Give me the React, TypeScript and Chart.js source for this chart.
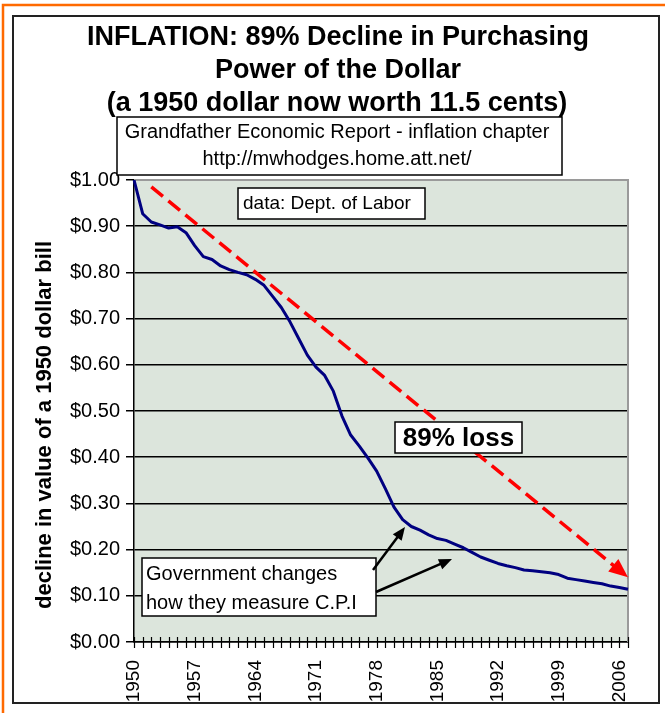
import React, { useEffect, useRef } from 'react';
import { Chart, registerables } from 'chart.js';

Chart.register(...registerables);

const FONT = "'Liberation Sans', Arial, sans-serif";

const years = [
  '1950', '1951', '1952', '1953', '1954', '1955', '1956', '1957', '1958', '1959',
  '1960', '1961', '1962', '1963', '1964', '1965', '1966', '1967', '1968', '1969',
  '1970', '1971', '1972', '1973', '1974', '1975', '1976', '1977', '1978', '1979',
  '1980', '1981', '1982', '1983', '1984', '1985', '1986', '1987', '1988', '1989',
  '1990', '1991', '1992', '1993', '1994', '1995', '1996', '1997', '1998', '1999',
  '2000', '2001', '2002', '2003', '2004', '2005', '2006', '2007',
];

const dollarValue = [
  1.0, 0.927, 0.909, 0.903, 0.896, 0.899, 0.886, 0.858, 0.834, 0.828,
  0.814, 0.806, 0.8, 0.795, 0.785, 0.772, 0.748, 0.724, 0.693, 0.657,
  0.621, 0.595, 0.577, 0.543, 0.489, 0.448, 0.424, 0.398, 0.37, 0.332,
  0.292, 0.265, 0.25, 0.242, 0.232, 0.224, 0.22, 0.212, 0.204, 0.194,
  0.184, 0.177, 0.17, 0.165, 0.161, 0.156, 0.154, 0.152, 0.15, 0.146,
  0.138, 0.135, 0.132, 0.129, 0.126, 0.121, 0.118, 0.114,
];

const trendYears = ['1952', '2007'];
const trendValues = [0.985, 0.14];

const shownYearLabels = ['1950', '1957', '1964', '1971', '1978', '1985', '1992', '1999', '2006'];

const titleLines = [
  'INFLATION: 89% Decline in Purchasing',
  'Power of the Dollar',
  '(a 1950 dollar now worth 11.5 cents)',
];
const sourceLines = ['Grandfather Economic Report - inflation chapter', 'http://mwhodges.home.att.net/'];
const dataNote = 'data: Dept. of Labor';
const lossNote = '89% loss';
const govLines = ['Government changes', 'how they measure C.P.I'];
const yTitle = 'decline in value of a 1950 dollar bill';

function arrowHead(ctx: CanvasRenderingContext2D, x0: number, y0: number, x1: number, y1: number, len: number, half: number, color: string) {
  const ang = Math.atan2(y1 - y0, x1 - x0);
  ctx.save();
  ctx.fillStyle = color;
  ctx.beginPath();
  ctx.moveTo(x1, y1);
  ctx.lineTo(x1 - len * Math.cos(ang) + half * Math.sin(ang), y1 - len * Math.sin(ang) - half * Math.cos(ang));
  ctx.lineTo(x1 - len * Math.cos(ang) - half * Math.sin(ang), y1 - len * Math.sin(ang) + half * Math.cos(ang));
  ctx.closePath();
  ctx.fill();
  ctx.restore();
}

function arrow(ctx: CanvasRenderingContext2D, x0: number, y0: number, x1: number, y1: number) {
  const ang = Math.atan2(y1 - y0, x1 - x0);
  ctx.save();
  ctx.strokeStyle = '#000';
  ctx.lineWidth = 2.5;
  ctx.beginPath();
  ctx.moveTo(x0, y0);
  ctx.lineTo(x1 - 8 * Math.cos(ang), y1 - 8 * Math.sin(ang));
  ctx.stroke();
  ctx.restore();
  arrowHead(ctx, x0, y0, x1, y1, 13, 5.5, '#000');
}

function box(ctx: CanvasRenderingContext2D, x0: number, y0: number, x1: number, y1: number) {
  ctx.save();
  ctx.fillStyle = '#fff';
  ctx.fillRect(x0, y0, x1 - x0, y1 - y0);
  ctx.strokeStyle = '#000';
  ctx.lineWidth = 1.5;
  ctx.strokeRect(x0, y0, x1 - x0, y1 - y0);
  ctx.restore();
}

const decor = {
  id: 'decor',
  beforeDraw(chart: any) {
    const { ctx, chartArea: a } = chart;
    ctx.save();
    ctx.fillStyle = '#fff';
    ctx.fillRect(0, 0, chart.width, chart.height);
    ctx.fillStyle = '#dce5dc';
    ctx.fillRect(a.left, a.top, a.right - a.left, a.bottom - a.top);
    ctx.restore();
  },
  beforeDatasetsDraw(chart: any) {
    const { ctx, chartArea: a } = chart;
    ctx.save();
    ctx.strokeStyle = '#9a9a9a';
    ctx.lineWidth = 2;
    ctx.beginPath();
    ctx.moveTo(a.left, a.top);
    ctx.lineTo(a.right, a.top);
    ctx.lineTo(a.right, a.bottom);
    ctx.stroke();
    ctx.restore();
  },
  afterDatasetsDraw(chart: any) {
    const { ctx } = chart;
    const pts = chart.getDatasetMeta(1).data;
    const p0 = pts[pts.length - 2];
    const p1 = pts[pts.length - 1];
    arrowHead(ctx, p0.x, p0.y, p1.x, p1.y, 19, 8, '#ff0000');
  },
  afterDraw(chart: any) {
    const { ctx, chartArea: a } = chart;
    const xs = chart.scales.x;
    ctx.save();
    // x tick marks crossing the axis
    ctx.strokeStyle = '#000';
    ctx.lineWidth = 1.2;
    for (let i = 0; i < years.length; i++) {
      const x = Math.round(xs.getPixelForValue(i)) + 0.5;
      ctx.beginPath();
      ctx.moveTo(x, a.bottom - 5);
      ctx.lineTo(x, a.bottom + 6);
      ctx.stroke();
    }
    // frames
    ctx.strokeStyle = '#ff6a00';
    ctx.lineWidth = 2.5;
    ctx.strokeRect(3, 5, 720, 760);
    ctx.strokeStyle = '#222';
    ctx.lineWidth = 2;
    ctx.strokeRect(13, 16, 646, 687);

    // title
    ctx.fillStyle = '#000';
    ctx.textAlign = 'center';
    ctx.textBaseline = 'middle';
    ctx.font = `bold 27px ${FONT}`;
    ctx.fillText(titleLines[0], 338, 38);
    ctx.fillText(titleLines[1], 338, 71);
    ctx.fillText(titleLines[2], 337, 104);

    // source box
    box(ctx, 117, 117, 562, 175);
    ctx.fillStyle = '#000';
    ctx.font = `20px ${FONT}`;
    ctx.textAlign = 'center';
    ctx.fillText(sourceLines[0], 337, 132);
    ctx.fillText(sourceLines[1], 337, 159);

    // data note
    box(ctx, 238, 188, 425, 219);
    ctx.fillStyle = '#000';
    ctx.font = `19px ${FONT}`;
    ctx.textAlign = 'left';
    ctx.fillText(dataNote, 243, 204);

    // 89% loss
    box(ctx, 395, 422, 522, 453);
    ctx.fillStyle = '#000';
    ctx.font = `bold 26px ${FONT}`;
    ctx.textAlign = 'center';
    ctx.fillText(lossNote, 458.5, 438.5);

    // government note
    box(ctx, 142, 558, 376, 616);
    ctx.fillStyle = '#000';
    ctx.font = `20px ${FONT}`;
    ctx.textAlign = 'left';
    ctx.fillText(govLines[0], 146, 574);
    ctx.fillText(govLines[1], 146, 603);

    arrow(ctx, 373, 570, 405, 527);
    arrow(ctx, 376, 592, 452, 559);

    // y axis title
    ctx.save();
    ctx.translate(45, 425);
    ctx.rotate(-Math.PI / 2);
    ctx.font = `bold 22px ${FONT}`;
    ctx.textAlign = 'center';
    ctx.textBaseline = 'middle';
    ctx.fillStyle = '#000';
    ctx.fillText(yTitle, 0, 0);
    ctx.restore();

    ctx.restore();
  },
};

export default function App() {
  const ref = useRef<HTMLCanvasElement | null>(null);
  useEffect(() => {
    if (!ref.current) return;
    const chart = new Chart(ref.current, {
      type: 'line',
      data: {
        labels: years,
        datasets: [
          {
            label: 'value',
            data: dollarValue,
            borderColor: '#000080',
            borderWidth: 3,
            pointRadius: 0,
            tension: 0,
            borderJoinStyle: 'round',
          },
          {
            label: 'trend',
            data: trendYears.map((y, i) => ({ x: y, y: trendValues[i] })),
            borderColor: '#ff0000',
            borderWidth: 3.5,
            borderDash: [15, 7],
            pointRadius: 0,
            clip: false,
          },
        ],
      },
      options: {
        responsive: false,
        animation: false,
        events: [],
        layout: { padding: { top: 180, right: 37, left: 0, bottom: 0 } },
        plugins: { legend: { display: false }, tooltip: { enabled: false }, title: { display: false } },
        scales: {
          x: {
            type: 'category',
            offset: false,
            afterFit: (s: any) => {
              s.height = 71;
              s.paddingLeft = 0;
              s.paddingRight = 0;
            },
            grid: { display: false, drawTicks: false },
            border: { display: true, color: '#000', width: 1.5 },
            ticks: {
              autoSkip: false,
              maxRotation: 90,
              minRotation: 90,
              padding: 18,
              color: '#000',
              font: { family: FONT, size: 19 },
              callback: function (this: any, v: any) {
                const lab = years[v as number];
                return shownYearLabels.includes(lab) ? lab : '';
              },
            },
          },
          y: {
            min: 0,
            max: 1,
            afterFit: (s: any) => {
              s.width = 134;
            },
            grid: {
              color: (c: any) => (c.tick && c.tick.value >= 0.999 ? 'rgba(0,0,0,0)' : '#000'),
              lineWidth: 1.5,
              tickColor: '#000',
              tickLength: 8,
            },
            border: { display: true, color: '#000', width: 1.5 },
            ticks: {
              stepSize: 0.1,
              padding: 6,
              color: '#000',
              font: { family: FONT, size: 20 },
              callback: (v: any) => '$' + Number(v).toFixed(2),
            },
          },
        },
      },
      plugins: [decor],
    } as any);
    return () => chart.destroy();
  }, []);
  return (
    <div style={{ position: 'absolute', left: 0, top: 0, width: 665, height: 713 }}>
      <canvas ref={ref} width={665} height={713} style={{ display: 'block' }} />
    </div>
  );
}
